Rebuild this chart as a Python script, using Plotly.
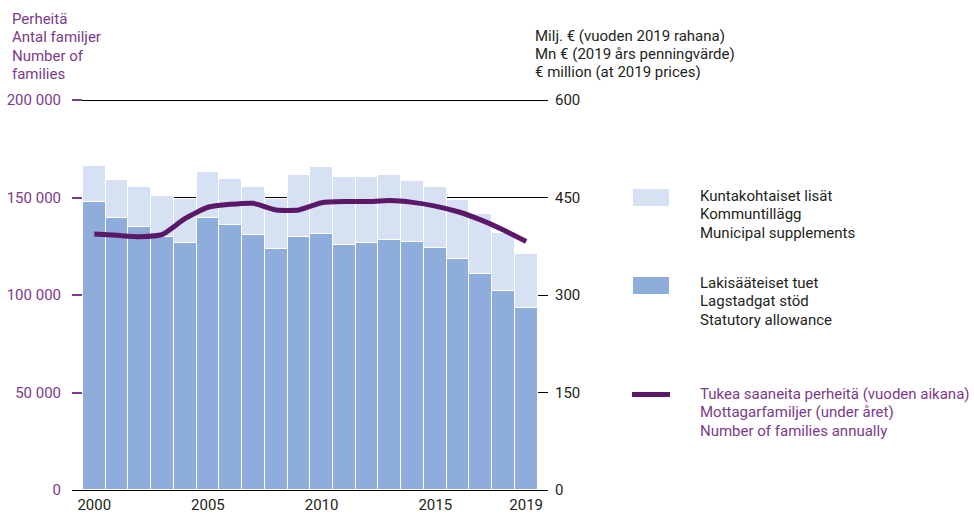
import plotly.graph_objects as go

years = list(range(2000, 2020))
statutory = [443, 418, 404, 389, 380, 418, 407, 393, 371, 389,
             394, 377, 380, 384, 381, 372, 355, 333, 306, 280]
municipal = [56, 59, 62, 64, 68, 71, 71, 73, 77, 95,
             103, 105, 102, 101, 95, 94, 91, 92, 90, 83]
families = [131300, 130600, 129900, 131100, 139300, 145000, 146500, 147000, 143600, 143600,
            147300, 147900, 147900, 148400, 147500, 145600, 142700, 138500, 133300, 127400]

left_ticks = [0, 50000, 100000, 150000, 200000]
left_ticktext = ["0", "50 000", "100 000", "150 000", "200 000"]
right_ticks = [0, 150, 300, 450, 600]
x_ticks = [2000, 2005, 2010, 2015, 2019]

FONT = "Roboto, sans-serif"
FS = 15
PURPLE_TXT = "#7b3a8a"
PURPLE_LINE = "#5b1768"
DARK = "#231f20"
LIGHT_BAR = "#d7e1f4"
MID_BAR = "#8eadda"

W, H = 974, 515
ML, MR, MT, MB = 72, 426, 96, 25
PW = W - ML - MR
PH = H - MT - MB


def px(x):
    return (x - ML) / PW


def py(y):
    return (H - MB - y) / PH


fig = go.Figure()
fig.add_trace(go.Bar(x=years, y=statutory, name="Lakisääteiset tuet", yaxis="y",
                     marker=dict(color=MID_BAR, line=dict(color="white", width=1.2)),
                     showlegend=False))
fig.add_trace(go.Bar(x=years, y=municipal, name="Kuntakohtaiset lisät", yaxis="y",
                     marker=dict(color=LIGHT_BAR, line=dict(color="white", width=1.2)),
                     showlegend=False))
fig.add_trace(go.Scatter(x=years, y=families, mode="lines", name="Tukea saaneita perheitä",
                         yaxis="y2",
                         line=dict(color=PURPLE_LINE, width=5, shape="spline", smoothing=0.5),
                         showlegend=False))

top_left = 200000 * PH / 390.0
top_right = 600 * PH / 390.0
fig.update_layout(
    width=W, height=H,
    margin=dict(l=ML, r=MR, t=MT, b=MB),
    paper_bgcolor="white", plot_bgcolor="white",
    barmode="stack", bargap=0,
    font=dict(family=FONT, size=FS, color=DARK),
    xaxis=dict(range=[1999.02, 2019.96], tickvals=x_ticks, ticktext=[str(v) for v in x_ticks],
               showgrid=False, zeroline=False, showline=False, ticks="",
               automargin=False, ticklabelstandoff=4,
               tickfont=dict(color=DARK, size=FS)),
    # euro axis (right side) - primary, carries the gridlines
    yaxis=dict(range=[0, top_right], tickvals=right_ticks,
               ticktext=[str(v) for v in right_ticks], side="right",
               showgrid=True, gridcolor="black", gridwidth=1,
               zeroline=True, zerolinecolor="black", zerolinewidth=1.2,
               showline=False, ticks="", automargin=False, ticklabelstandoff=6,
               tickfont=dict(color=DARK, size=FS)),
    # families axis (left side) - overlaying so the line is drawn on top of the bars
    yaxis2=dict(range=[0, top_left], tickvals=left_ticks, ticktext=left_ticktext,
                overlaying="y", side="left",
                showgrid=False, zeroline=False, showline=False,
                ticks="inside", ticklen=10, tickcolor=PURPLE_TXT, tickwidth=1.5,
                automargin=False, ticklabelstandoff=10,
                tickfont=dict(color=PURPLE_TXT, size=FS)),
)

annotations = []
for i, t in enumerate(["Perheitä", "Antal familjer", "Number of", "families"]):
    annotations.append(dict(text=t, x=px(10), y=py(19 + i * 18.4), xref="paper", yref="paper",
                            xanchor="left", yanchor="middle", showarrow=False,
                            font=dict(color=PURPLE_TXT, size=FS, family=FONT)))
for i, t in enumerate(["Milj. € (vuoden 2019 rahana)", "Mn € (2019 års penningvärde)",
                       "€ million (at 2019 prices)"]):
    annotations.append(dict(text=t, x=px(533), y=py(36 + i * 18.2), xref="paper", yref="paper",
                            xanchor="left", yanchor="middle", showarrow=False,
                            font=dict(color=DARK, size=FS, family=FONT)))

legend_blocks = [
    (196, DARK, ["Kuntakohtaiset lisät", "Kommuntillägg", "Municipal supplements"]),
    (283, DARK, ["Lakisääteiset tuet", "Lagstadgat stöd", "Statutory allowance"]),
    (394, PURPLE_TXT, ["Tukea saaneita perheitä (vuoden aikana)", "Mottagarfamiljer (under året)",
                       "Number of families annually"]),
]
for y0, col, lines in legend_blocks:
    for i, t in enumerate(lines):
        annotations.append(dict(text=t, x=px(698), y=py(y0 + i * 18.4), xref="paper", yref="paper",
                                xanchor="left", yanchor="middle", showarrow=False,
                                font=dict(color=col, size=FS, family=FONT)))

shapes = [
    dict(type="rect", xref="paper", yref="paper", x0=px(633), x1=px(669), y0=py(206), y1=py(189),
         fillcolor=LIGHT_BAR, line=dict(width=0)),
    dict(type="rect", xref="paper", yref="paper", x0=px(633), x1=px(669), y0=py(294), y1=py(277),
         fillcolor=MID_BAR, line=dict(width=0)),
    dict(type="line", xref="paper", yref="paper", x0=px(632), x1=px(670), y0=py(394.5), y1=py(394.5),
         line=dict(color=PURPLE_LINE, width=5)),
]
fig.update_layout(annotations=annotations, shapes=shapes)

fig.write_html("out.html", config={"displayModeBar": False},
               post_script="document.body.style.margin='0';")
